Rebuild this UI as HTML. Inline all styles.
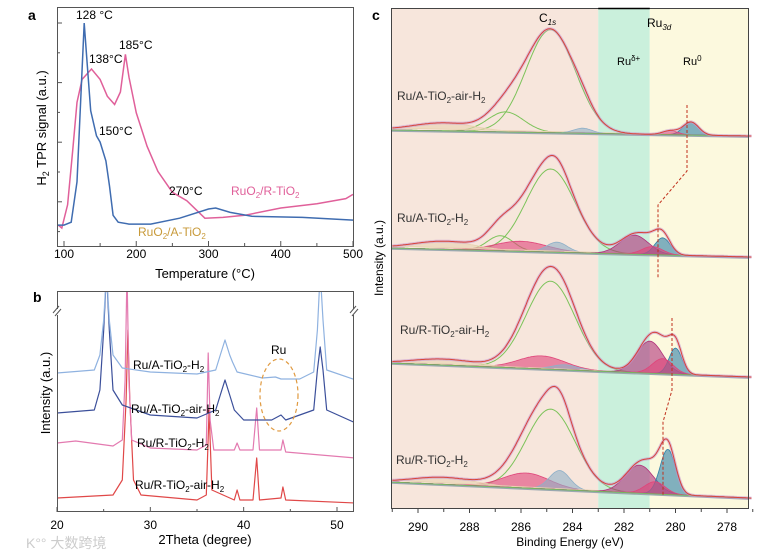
<!DOCTYPE html>
<html><head><meta charset="utf-8"><style>
html,body{margin:0;padding:0;background:#fff;}
svg{display:block;font-family:"Liberation Sans","Noto Sans CJK SC",sans-serif;}
</style></head><body>
<svg id="fig" width="781" height="558" viewBox="0 0 781 558" xmlns="http://www.w3.org/2000/svg">
<g id="pa"></g>
<g id="pb"></g>
<g id="pc"></g>
<text x="26" y="548" font-size="14" fill="#ccc">K°° 大数跨境</text>
</svg>
<script>
// ---------- Panel a data ----------
const tprBlueT = [90,100,110,118,123,128,132,137,145,150,158,163,168,175,190,220,260,300,310,330,360,430,500];
const tprBlueV = [3.3,3.3,4.7,24,62,100,81,58,46,43,34,22,8,4.7,3.8,3.8,6.6,11,11.5,9.4,7.5,7,5.7];
const tprPinkT = [92,97,105,112,118,125,138,150,160,170,178,185,190,200,215,230,250,270,295,320,350,400,450,490,500];
const tprPinkV = [3.3,1.9,13,39,62,73,78,73,65,61,67,85,74,57,41,29,19,15,6.6,7,8,11.5,13.5,16,18];
const tprXTicks = [100,200,300,400,500];
// ---------- Panel b data ----------
const xrdNames = ["Ru/A-TiO2-H2","Ru/A-TiO2-air-H2","Ru/R-TiO2-H2","Ru/R-TiO2-air-H2"];
const xrdT = [
 [20,24,24.6,25.0,25.3,25.6,26,27,30,35,37,37.5,38,38.5,38.8,39.3,42,43.4,44,46,47.5,47.9,48.2,48.5,48.9,52],
 [20,24,24.6,25.0,25.3,25.6,26,27,30,35,37,37.5,38,38.5,39,40,43,44,44.5,47.5,47.9,48.2,48.5,48.9,52],
 [20,22,26,27,27.3,27.5,27.7,28,30,35,36,36.2,36.4,36.8,39,39.3,39.6,41,41.4,41.7,44,44.2,44.5,52],
 [20,26,27,27.4,27.6,27.8,28.2,29,35,36,36.3,36.6,39,39.3,39.6,41,41.4,41.7,44,44.2,44.5,52]];
const xrdI = [
 [139,142,157,192,240,192,157,144,140,138,142,157,172,157,150,140,134,135,133,133,140,182,240,192,142,132],
 [99,102,122,182,240,182,122,107,97,94,102,117,132,117,102,92,92,97,92,102,142,165,142,102,89],
 [69,71,66,72,132,240,132,72,64,62,67,159,92,62,62,69,62,62,104,62,62,72,60,54],
 [14,17,32,112,182,112,32,17,12,17,102,22,12,22,12,12,54,12,14,25,12,9]];
const xrdXTicks = [20,30,40,50];
// ---------- Panel c data ----------
const xpsNames = ["Ru/A-TiO2-air-H2","Ru/A-TiO2-H2","Ru/R-TiO2-air-H2","Ru/R-TiO2-H2"];
const xpsBaseL = [130,248,363,482];
const xpsBaseR = [136,257,377,498];
const xpsCenters = [
 [284.85,286.6,289.0,283.6,279.4,280.2],
 [284.85,286.8,286.0,284.6,289.0,281.6,280.5,280.9],
 [284.85,285.2,284.3,289.0,281.0,280.0,280.5],
 [284.85,285.8,284.5,289.0,281.4,280.3,280.8]];
const xpsHeights = [
 [103,20,8,5,13,4],
 [83,15,10,10,8,19,17,8],
 [88,13,5,6,32,26,15],
 [80,15,19,7,28,45,12]];
const xpsSigmas = [
 [0.96,0.7,1.2,0.35,0.3,0.3],
 [0.95,0.5,1.0,0.4,1.2,0.55,0.3,0.4],
 [0.95,0.9,0.5,1.2,0.5,0.25,0.4],
 [0.95,0.9,0.4,1.2,0.55,0.3,0.4]];
const xpsKinds = [
 ["c","g","b","s","r","p"],
 ["c","g","p","s","b","m","r","p"],
 ["c","p","s","b","m","r","p"],
 ["c","p","s","b","m","r","p"]];
const xpsXTicks = [290,288,286,284,282,280,278];

const NS="http://www.w3.org/2000/svg";
function mk(parent,tag,attrs,name,txt){const e=document.createElementNS(NS,tag);for(const k in attrs)e.setAttribute(k,attrs[k]);
 
 
 if(txt!==undefined)e.innerHTML=txt;parent.appendChild(e);return e;}
function poly(xs,ys,fx,fy){return xs.map((x,i)=>(i?'L':'M')+fx(x).toFixed(1)+','+fy(ys[i]).toFixed(1)).join('');}

// ---------- Panel a ----------
(function(){
 const g=document.getElementById('pa');
 const x=t=>64+(t-100)*0.7225, y=v=>232-v*2.09;
 mk(g,'text',{x:28,y:20,'font-size':14,'font-weight':'bold'},'panel-label-a','a');
 const cp=mk(g,'clipPath',{id:'ca'},'clip-a');mk(cp,'rect',{x:57,y:7,width:297,height:239},'clip-rect-a');
 mk(g,'path',{d:poly(tprPinkT,tprPinkV,x,y),fill:'none',stroke:'#e0609a','stroke-width':1.5,'clip-path':'url(#ca)'},'ruo2-r-tio2-line');
 mk(g,'path',{d:poly(tprBlueT,tprBlueV,x,y),fill:'none',stroke:'#3f6cb0','stroke-width':1.5,'clip-path':'url(#ca)'},'ruo2-a-tio2-line');
 mk(g,'rect',{x:57.5,y:7.5,width:296,height:239,fill:'none',stroke:'#555','stroke-width':1},'plot-frame-a');
 tprXTicks.forEach(t=>{mk(g,'line',{x1:x(t),x2:x(t),y1:246,y2:241,stroke:'#555'},'x-tick-a');
  mk(g,'text',{x:x(t),y:258,'font-size':12,'text-anchor':'middle'},'x-tick-label-a',t);});
 [150,250,350,450].forEach(t=>mk(g,'line',{x1:x(t),x2:x(t),y1:246,y2:243,stroke:'#555'},'x-minor-tick-a'));
 for(let i=0;i<8;i++){const yy=23+i*29.8;mk(g,'line',{x1:57,x2:i%2?60:62,y1:yy,y2:yy,stroke:'#555'},'y-tick-a');}
 mk(g,'text',{x:205,y:278,'font-size':13,'text-anchor':'middle'},'x-axis-title-a','Temperature (°C)');
 mk(g,'text',{transform:'translate(46,128) rotate(-90)','font-size':13,'text-anchor':'middle'},'y-axis-title-a','H<tspan font-size="9" dy="3">2</tspan><tspan dy="-3"> TPR signal (a.u.)</tspan>');
 const ann=[['128 °C',76,19],['138°C',89,63],['185°C',119,49],['150°C',99,135],['270°C',169,195]];
 ann.forEach(a=>mk(g,'text',{x:a[1],y:a[2],'font-size':12},'peak-annotation',a[0]));
 mk(g,'text',{x:231,y:195,'font-size':12,fill:'#e0609a'},'legend-ruo2-r-tio2','RuO<tspan font-size="8" dy="3">2</tspan><tspan dy="-3">/R-TiO</tspan><tspan font-size="8" dy="3">2</tspan>');
 mk(g,'text',{x:138,y:236,'font-size':12,fill:'#c89a3a'},'legend-ruo2-a-tio2','RuO<tspan font-size="8" dy="3">2</tspan><tspan dy="-3">/A-TiO</tspan><tspan font-size="8" dy="3">2</tspan>');
})();

// ---------- Panel b ----------
(function(){
 const g=document.getElementById('pb');
 const x=t=>57+(t-20)*9.333, y=v=>512-v;
 mk(g,'text',{x:33,y:302,'font-size':14,'font-weight':'bold'},'panel-label-b','b');
 const cp=mk(g,'clipPath',{id:'cb'},'clip-b');mk(cp,'rect',{x:57,y:291,width:297,height:221},'clip-rect-b');
 const cols=['#8fb2e0','#3b4f9a','#e37ab0','#e04848'];
 [3,2,1,0].forEach(i=>{
  mk(g,'path',{d:poly(xrdT[i],xrdI[i],x,y),fill:'none',stroke:cols[i],'stroke-width':1.2,'stroke-linejoin':'round','clip-path':'url(#cb)'},'xrd-line-'+i);});
 mk(g,'rect',{x:57.5,y:291.5,width:296,height:220,fill:'none',stroke:'#555'},'plot-frame-b');
 [57,354].forEach(bx=>{mk(g,'rect',{x:bx-4,y:309,width:8,height:6,fill:'#fff'},'axis-break-gap');
  mk(g,'line',{x1:bx-4,y1:313,x2:bx+2,y2:306,stroke:'#555'},'axis-break-mark');
  mk(g,'line',{x1:bx-2,y1:316,x2:bx+4,y2:309,stroke:'#555'},'axis-break-mark');});
 xrdXTicks.forEach(t=>{mk(g,'line',{x1:x(t),x2:x(t),y1:512,y2:507,stroke:'#555'},'x-tick-b');
  mk(g,'text',{x:x(t),y:529,'font-size':12,'text-anchor':'middle'},'x-tick-label-b',t);});
 [25,35,45].forEach(t=>mk(g,'line',{x1:x(t),x2:x(t),y1:512,y2:509,stroke:'#555'},'x-minor-tick-b'));
 mk(g,'text',{x:205,y:544,'font-size':13,'text-anchor':'middle'},'x-axis-title-b','2Theta (degree)');
 mk(g,'text',{transform:'translate(50,393) rotate(-90)','font-size':13,'text-anchor':'middle'},'y-axis-title-b','Intensity (a.u.)');
 const lab=[[133,369,'Ru/A-TiO','-H'],[131,413,'Ru/A-TiO','-air-H'],[137,447,'Ru/R-TiO','-H'],[135,489,'Ru/R-TiO','-air-H']];
 lab.forEach((l,i)=>mk(g,'text',{x:l[0],y:l[1],'font-size':12},'xrd-label-'+i,l[2]+'<tspan font-size="8" dy="3">2</tspan><tspan dy="-3">'+l[3]+'</tspan><tspan font-size="8" dy="3">2</tspan>'));
 mk(g,'text',{x:271,y:354,'font-size':12},'ru-annotation','Ru');
 mk(g,'ellipse',{cx:279,cy:395,rx:19,ry:36,fill:'none',stroke:'#e09a40','stroke-dasharray':'4,3','stroke-width':1.2},'ru-highlight-ellipse');
})();

// ---------- Panel c ----------
(function(){
 const g=document.getElementById('pc');
 const x=e=>418+(290-e)*25.75;
 mk(g,'text',{x:372,y:20,'font-size':14,'font-weight':'bold'},'panel-label-c','c');
 mk(g,'rect',{x:391,y:8,width:x(283)-391,height:501,fill:'#f7e6dc'},'c1s-region');
 mk(g,'rect',{x:x(283),y:8,width:x(281)-x(283),height:501,fill:'#caf0dc'},'ru-delta-region');
 mk(g,'rect',{x:x(281),y:8,width:749-x(281),height:501,fill:'#fcf9de'},'ru0-region');
 const fills={c:'none',g:'none',b:'#e8d2b0',s:'#8fb0c8',r:'#2f7fa6',p:'#e0457a',m:'#b0307a'};
 for(let s=0;s<4;s++){
  const bl=e=>xpsBaseL[s]+(x(e)-391)/(749-391)*(xpsBaseR[s]-xpsBaseL[s]);
  const es=[];for(let e=291;e>=277;e-=0.05)es.push(e);
  const comp=(k,e)=>xpsHeights[s][k]*Math.exp(-0.5*Math.pow((e-xpsCenters[s][k])/xpsSigmas[s][k],2));
  xpsCenters[s].forEach((c,k)=>{const kind=xpsKinds[s][k];
   const d=es.map((e,i)=>(i?'L':'M')+x(e).toFixed(1)+','+(bl(e)-comp(k,e)).toFixed(1)).join('');
   if(kind==='c'||kind==='g'){mk(g,'path',{d:d,fill:'none',stroke:'#7cc35a','stroke-width':1},'xps-component-line');}
   else mk(g,'path',{d:d+'Z',fill:fills[kind],'fill-opacity':0.6,stroke:fills[kind],'stroke-width':0.8},'xps-component-fill');});
  mk(g,'line',{x1:391,x2:749,y1:bl(291)+1,y2:bl(277)+1,stroke:'#9aa8b0','stroke-width':1.5},'xps-baseline');
  mk(g,'line',{x1:391,x2:749,y1:bl(291),y2:bl(277),stroke:'#6fbf5a','stroke-width':0.8},'xps-baseline-fit');
  const env=es.map((e,i)=>{let v=0;xpsCenters[s].forEach((c,k)=>v+=comp(k,e));return (i?'L':'M')+x(e).toFixed(1)+','+(bl(e)-v).toFixed(1);}).join('');
  mk(g,'path',{d:env,fill:'none',stroke:'#c89ad0','stroke-width':3,'stroke-opacity':0.6},'xps-data-points');
  mk(g,'path',{d:env,fill:'none',stroke:'#d8443a','stroke-width':1},'xps-envelope');
 }
 mk(g,'path',{d:'M687,105L687,171L658,205L658,278',fill:'none',stroke:'#c0301c','stroke-dasharray':'3,2'},'ru0-shift-line-top');
 mk(g,'path',{d:'M672,318L672,390L663,422L663,495',fill:'none',stroke:'#c0301c','stroke-dasharray':'3,2'},'ru0-shift-line-bottom');
 mk(g,'rect',{x:391.5,y:8.5,width:357,height:500,fill:'none',stroke:'#444'},'plot-frame-c');
 mk(g,'line',{x1:x(283),x2:x(281),y1:8.5,y2:8.5,stroke:'#000','stroke-width':1.5},'ru3d-top-bar');
 xpsXTicks.forEach(t=>{mk(g,'line',{x1:x(t),x2:x(t),y1:509,y2:513,stroke:'#444'},'x-tick-c');
  mk(g,'text',{x:x(t),y:531,'font-size':12,'text-anchor':'middle'},'x-tick-label-c',t);});
 [291,289,287,285,283,281,279,277].forEach(t=>mk(g,'line',{x1:x(t),x2:x(t),y1:509,y2:512,stroke:'#444'},'x-minor-tick-c'));
 mk(g,'text',{x:570,y:546,'font-size':12,'text-anchor':'middle'},'x-axis-title-c','Binding Energy (eV)');
 mk(g,'text',{transform:'translate(383,258) rotate(-90)','font-size':12,'text-anchor':'middle'},'y-axis-title-c','Intensity (a.u.)');
 const lab=[[397,100,'Ru/A-TiO','-air-H'],[397,222,'Ru/A-TiO','-H'],[400,334,'Ru/R-TiO','-air-H'],[396,464,'Ru/R-TiO','-H']];
 lab.forEach((l,i)=>mk(g,'text',{x:l[0],y:l[1],'font-size':12,fill:'#333'},'xps-label-'+i,l[2]+'<tspan font-size="8" dy="3">2</tspan><tspan dy="-3">'+l[3]+'</tspan><tspan font-size="8" dy="3">2</tspan>'));
 mk(g,'text',{x:539,y:22,'font-size':12},'c1s-label','C<tspan font-size="8" dy="3" font-style="italic">1s</tspan>');
 mk(g,'text',{x:647,y:27,'font-size':12},'ru3d-label','Ru<tspan font-size="8" dy="3" font-style="italic">3d</tspan>');
 mk(g,'text',{x:617,y:65,'font-size':11},'ru-delta-label','Ru<tspan font-size="8" dy="-4">δ+</tspan>');
 mk(g,'text',{x:683,y:65,'font-size':11},'ru0-label','Ru<tspan font-size="8" dy="-4">0</tspan>');
})();
</script>
</body></html>
